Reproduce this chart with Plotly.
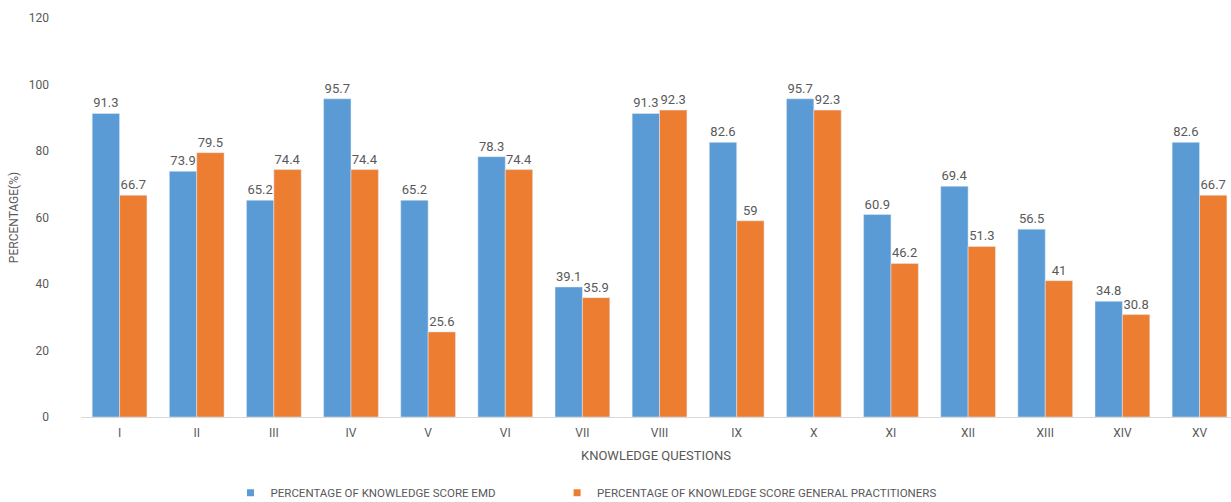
import plotly.graph_objects as go

categories = ["I", "II", "III", "IV", "V", "VI", "VII", "VIII", "IX", "X", "XI", "XII", "XIII", "XIV", "XV"]
emd = [91.3, 73.9, 65.2, 95.7, 65.2, 78.3, 39.1, 91.3, 82.6, 95.7, 60.9, 69.4, 56.5, 34.8, 82.6]
gp = [66.7, 79.5, 74.4, 74.4, 25.6, 74.4, 35.9, 92.3, 59, 92.3, 46.2, 51.3, 41, 30.8, 66.7]
y_ticks = [0, 20, 40, 60, 80, 100, 120]
series_names = ["PERCENTAGE OF KNOWLEDGE SCORE EMD",
                "PERCENTAGE OF KNOWLEDGE SCORE GENERAL PRACTITIONERS"]
colors = ["#5B9BD5", "#ED7D31"]

font_fam = "Liberation Sans Narrow, Roboto, Arial"
gray = "#595959"

fig = go.Figure()
for vals, name, col, leg in zip([emd, gp], series_names, colors, ["legend", "legend2"]):
    fig.add_bar(x=categories, y=vals, name=name, marker_color=col,
                text=[str(v) for v in vals], textposition="outside",
                textfont=dict(color=gray, size=13, family=font_fam), cliponaxis=False,
                showlegend=False, legendgroup=name)
    # legend entry with a small square swatch
    fig.add_scatter(x=[None], y=[None], mode="markers", name=name, legendgroup=name,
                    marker=dict(symbol="square", size=7, color=col), legend=leg)

leg_common = dict(orientation="h", xanchor="left", y=-0.19, yanchor="middle",
                  font=dict(size=11.5, color=gray), itemwidth=30, bgcolor="rgba(0,0,0,0)")

fig.update_layout(
    width=1231, height=502,
    margin=dict(l=81, r=0, t=18, b=85, autoexpand=False),
    paper_bgcolor="white", plot_bgcolor="white",
    barmode="group", bargap=0.29, bargroupgap=0,
    font=dict(family=font_fam, color=gray, size=12),
    showlegend=True,
    legend=dict(x=0.13, **leg_common),
    legend2=dict(x=0.414, **leg_common),
    xaxis=dict(range=[-0.5, 14.408], showgrid=False, showline=True, linecolor="#d9d9d9",
               ticks="", tickfont=dict(size=12, color=gray), ticklabelstandoff=5, automargin=False,
               title=dict(text="KNOWLEDGE QUESTIONS", font=dict(size=13, color=gray), standoff=11)),
    yaxis=dict(range=[0, 120], tickvals=y_ticks, showgrid=False, zeroline=False, showline=False,
               tickfont=dict(size=12, color=gray), ticklabelstandoff=31, automargin=False,
               title=dict(text="PERCENTAGE(%)", font=dict(size=12, color=gray), standoff=7)),
)

fig.write_html("out.html")
